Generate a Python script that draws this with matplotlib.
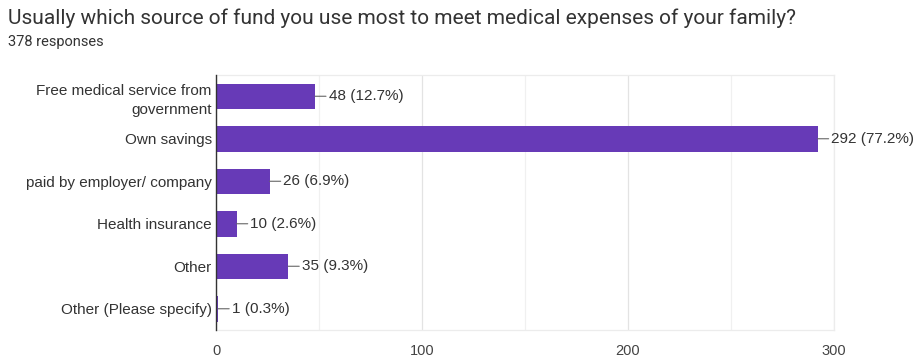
import matplotlib.pyplot as plt
from matplotlib.ticker import MultipleLocator

plt.rcParams['font.family'] = ['Liberation Sans', 'DejaVu Sans']

title = "Usually which source of fund you use most to meet medical expenses of your family?"
subtitle = "378 responses"
sources = ["Free medical service from\ngovernment", "Own savings",
           "paid by employer/ company", "Health insurance", "Other",
           "Other (Please specify)"]
counts = [48, 292, 26, 10, 35, 1]
percents = [12.7, 77.2, 6.9, 2.6, 9.3, 0.3]

bar_color = '#673ab7'
text_color = '#333333'

fig = plt.figure(figsize=(9.18, 3.57), dpi=100)
ax = fig.add_axes([0.2353, 0.0756, 0.6732, 0.7143])

pos = list(range(len(sources)))
ax.barh(pos, counts, height=0.6, color=bar_color, zorder=3)

ax.set_ylim(len(sources) - 0.5, -0.5)
ax.set_xlim(0, 300)
ax.set_yticks(pos)
ax.set_yticklabels(sources, fontsize=11, color=text_color, linespacing=1.45)
ax.xaxis.set_major_locator(MultipleLocator(100))
ax.xaxis.set_minor_locator(MultipleLocator(50))
ax.tick_params(axis='x', which='both', length=0, labelsize=10.5, labelcolor='#444444', pad=10)
ax.tick_params(axis='y', length=0, pad=3)

ax.grid(axis='x', which='major', color='#e3e3e3', lw=0.9, zorder=0)
ax.grid(axis='x', which='minor', color='#f0f0f0', lw=0.9, zorder=0)

for side in ['top', 'right', 'bottom']:
    ax.spines[side].set_color('#ececec')
    ax.spines[side].set_linewidth(0.9)
ax.spines['left'].set_color('#333333')
ax.spines['left'].set_linewidth(1.0)
ax.spines['left'].set_zorder(4)

# value labels with a short leader line from the bar end
for y, c, p in zip(pos, counts, percents):
    ax.annotate(f"{c} ({p}%)", xy=(c, y), xytext=(10, 0), textcoords='offset points',
                ha='left', va='center', fontsize=11, color=text_color,
                arrowprops=dict(arrowstyle='-', color='#666666', lw=0.8,
                                shrinkA=0, shrinkB=0, relpos=(0, 0.5)),
                annotation_clip=False)

fig.text(8 / 918, 1 - 18 / 357, title, fontsize=15, color='#333333',
         family=['Roboto', 'DejaVu Sans'], ha='left', va='center')
fig.text(8 / 918, 1 - 42 / 357, subtitle, fontsize=10.5, color='#333333',
         family=['Roboto', 'DejaVu Sans'], ha='left', va='center')

fig.savefig('out.png', dpi=100, facecolor='white')
